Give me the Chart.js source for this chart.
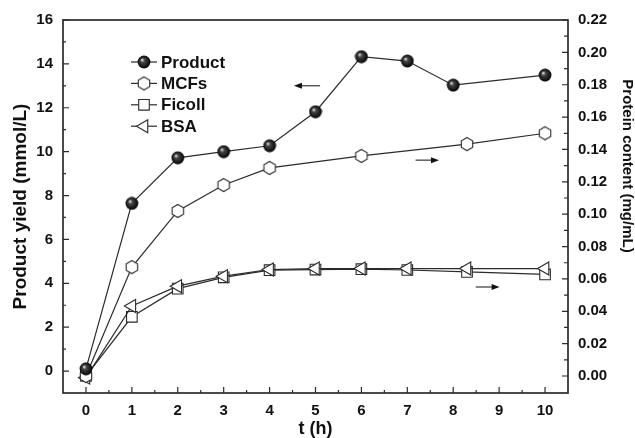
<!DOCTYPE html>
<html>
<head>
<meta charset="UTF-8">
<title>Product yield and protein content</title>
<script src="https://cdn.jsdelivr.net/npm/chart.js"></script>
<style>
  body { margin: 0; background: #fff; }
  #wrap { width: 635px; height: 438px; }
</style>
</head>
<body>
<div id="wrap"><canvas id="myChart"></canvas></div>
<script>
// values
const hours = [0, 1, 2, 3, 4, 5, 6, 7, 8, 10];
const product = [0.1, 7.64, 9.72, 10.0, 10.27, 11.82, 14.33, 14.13, 13.03, 13.49];

const mcfsHours = [0, 1, 2, 3, 4, 6, 8.3, 10];
const mcfs = [0.0, 0.0673, 0.102, 0.118, 0.1286, 0.136, 0.1433, 0.150];

const proteinHours = [0, 1, 2, 3, 4, 5, 6, 7, 8.3, 10];
const ficoll = [0.0, 0.0366, 0.054, 0.061, 0.0654, 0.0658, 0.066, 0.0655, 0.0643, 0.0628];
const bsa = [-0.001, 0.0433, 0.0555, 0.0617, 0.0658, 0.0664, 0.0664, 0.0664, 0.0664, 0.0664];

const xTicks = [0, 1, 2, 3, 4, 5, 6, 7, 8, 9, 10];
const leftTicks = [0, 2, 4, 6, 8, 10, 12, 14, 16];
const rightTicks = [0, 0.02, 0.04, 0.06, 0.08, 0.10, 0.12, 0.14, 0.16, 0.18, 0.20, 0.22];

// little arrows telling which axis a curve belongs to
const arrows = [
    { axis: 'y', y: 13.0, from: 5.1, to: 4.53 },
    { axis: 'y1', y: 0.1334, from: 7.18, to: 7.69 },
    { axis: 'y1', y: 0.055, from: 8.49, to: 9.01 }
];

const FONT = "'Liberation Sans', Arial, sans-serif";
const INK = '#2b2b2b';
Chart.defaults.font.family = FONT;
Chart.defaults.color = '#111';

function pairs(xs, ys) {
    return xs.map((x, i) => ({ x: x, y: ys[i] }));
}

// shaded ball marker
var ball = document.createElement('canvas');
ball.width = 14; ball.height = 14;
(function () {
    var c = ball.getContext('2d');
    var g = c.createRadialGradient(5, 4.8, 0.3, 7, 7, 6.6);
    g.addColorStop(0, '#e0e0e0');
    g.addColorStop(0.3, '#444');
    g.addColorStop(1, '#000');
    c.fillStyle = g;
    c.beginPath();
    c.arc(7, 7, 6.4, 0, Math.PI * 2);
    c.fill();
})();

// open hexagon marker
var hex = document.createElement('canvas');
hex.width = 16; hex.height = 16;
(function () {
    var c = hex.getContext('2d');
    c.beginPath();
    for (var k = 0; k < 6; k++) {
        var a = (-90 + 60 * k) * Math.PI / 180;
        var px = 8 + 6.6 * Math.cos(a), py = 8 + 6.6 * Math.sin(a);
        if (k == 0) c.moveTo(px, py); else c.lineTo(px, py);
    }
    c.closePath();
    c.fillStyle = '#fff';
    c.fill();
    c.strokeStyle = INK;
    c.lineWidth = 1.1;
    c.stroke();
})();

const frameTicks = {
    id: 'frameTicks',
    beforeDatasetsDraw(chart) {
        const { ctx, chartArea: a, scales } = chart;
        ctx.save();
        ctx.strokeStyle = INK;
        ctx.lineWidth = 1.7;
        ctx.strokeRect(a.left, a.top, a.right - a.left, a.bottom - a.top);
        ctx.lineWidth = 1.2;
        ctx.beginPath();
        const xs = scales.x;
        xTicks.forEach((v, i) => {
            const p = xs.getPixelForValue(v);
            ctx.moveTo(p, a.bottom); ctx.lineTo(p, a.bottom - 6);
            if (i < xTicks.length - 1) {
                const m = xs.getPixelForValue((v + xTicks[i + 1]) / 2);
                ctx.moveTo(m, a.bottom); ctx.lineTo(m, a.bottom - 3);
            }
        });
        const yl = scales.y;
        leftTicks.forEach((v, i) => {
            const p = yl.getPixelForValue(v);
            ctx.moveTo(a.left, p); ctx.lineTo(a.left + 6, p);
            if (i < leftTicks.length - 1) {
                const m = yl.getPixelForValue((v + leftTicks[i + 1]) / 2);
                ctx.moveTo(a.left, m); ctx.lineTo(a.left + 3, m);
            }
        });
        const yr = scales.y1;
        rightTicks.forEach((v, i) => {
            const p = yr.getPixelForValue(v);
            ctx.moveTo(a.right, p); ctx.lineTo(a.right - 6, p);
            if (i < rightTicks.length - 1) {
                const m = yr.getPixelForValue((v + rightTicks[i + 1]) / 2);
                ctx.moveTo(a.right, m); ctx.lineTo(a.right - 4, m);
            }
        });
        ctx.stroke();
        ctx.restore();
    }
};

const extras = {
    id: 'extras',
    afterDraw(chart) {
        const { ctx, scales } = chart;
        ctx.save();
        // arrows
        ctx.strokeStyle = '#111';
        ctx.fillStyle = '#111';
        ctx.lineWidth = 1;
        arrows.forEach(ar => {
            const y = scales[ar.axis].getPixelForValue(ar.y);
            const x0 = scales.x.getPixelForValue(ar.from);
            const x1 = scales.x.getPixelForValue(ar.to);
            const dir = x1 > x0 ? 1 : -1;
            ctx.beginPath();
            ctx.moveTo(x0, y); ctx.lineTo(x1 - dir * 6, y);
            ctx.stroke();
            ctx.beginPath();
            ctx.moveTo(x1, y);
            ctx.lineTo(x1 - dir * 8, y - 3);
            ctx.lineTo(x1 - dir * 8, y + 3);
            ctx.closePath();
            ctx.fill();
        });

        // legend in the upper left corner
        chart.data.datasets.forEach((ds, i) => {
            const y = 62 + i * 21.4;
            ctx.strokeStyle = INK;
            ctx.lineWidth = 1.2;
            ctx.beginPath();
            ctx.moveTo(131, y); ctx.lineTo(157, y);
            ctx.stroke();
            ctx.fillStyle = '#fff';
            ctx.strokeStyle = INK;
            ctx.lineWidth = ds.pointBorderWidth || 1;
            Chart.helpers.drawPoint(ctx, {
                pointStyle: ds.pointStyle,
                rotation: ds.pointRotation || 0,
                radius: ds.pointRadius,
                borderWidth: ds.pointBorderWidth || 1
            }, 144, y);
            ctx.fillStyle = '#111';
            ctx.font = 'bold 17px ' + FONT;
            ctx.textBaseline = 'middle';
            ctx.textAlign = 'left';
            ctx.fillText(ds.label, 161, y + 1);
        });

        // right axis title
        ctx.translate(627, 166);
        ctx.rotate(Math.PI / 2);
        ctx.font = 'bold 15px ' + FONT;
        ctx.textAlign = 'center';
        ctx.textBaseline = 'middle';
        ctx.fillStyle = '#111';
        ctx.fillText('Protein content (mg/mL)', 0, 0);
        ctx.restore();
    }
};

const lineStyle = { borderColor: INK, borderWidth: 1.2, tension: 0, showLine: true };

new Chart(document.getElementById('myChart'), {
    type: 'scatter',
    data: {
        datasets: [
            Object.assign({
                label: 'Product', data: pairs(hours, product), yAxisID: 'y',
                pointStyle: ball, pointRadius: 7, order: 0
            }, lineStyle),
            Object.assign({
                label: 'MCFs', data: pairs(mcfsHours, mcfs), yAxisID: 'y1',
                pointStyle: hex, pointRadius: 7, order: 0
            }, lineStyle),
            Object.assign({
                label: 'Ficoll', data: pairs(proteinHours, ficoll), yAxisID: 'y1',
                pointStyle: 'rect', pointRadius: 7.5, pointBackgroundColor: '#fff',
                pointBorderColor: INK, pointBorderWidth: 1.1, order: 2
            }, lineStyle),
            Object.assign({
                label: 'BSA', data: pairs(proteinHours, bsa), yAxisID: 'y1',
                pointStyle: 'triangle', pointRotation: -90, pointRadius: 7.5,
                pointBackgroundColor: '#fff', pointBorderColor: INK, pointBorderWidth: 1.1, order: 1
            }, lineStyle)
        ]
    },
    options: {
        responsive: true,
        maintainAspectRatio: false,
        animation: false,
        events: [],
        layout: { padding: { top: 20, left: 0, right: 0, bottom: 0 } },
        plugins: { legend: { display: false }, tooltip: { enabled: false } },
        scales: {
            x: {
                type: 'linear', min: -0.5, max: 10.5,
                grid: { display: false }, border: { display: false },
                afterBuildTicks(s) { s.ticks = xTicks.map(v => ({ value: v })); },
                afterFit(s) { s.height = 45; },
                ticks: { padding: 1, font: { size: 15, weight: 'bold' }, maxRotation: 0 },
                title: {
                    display: true, text: 't (h)',
                    font: { size: 18, weight: 'bold', lineHeight: 1 },
                    padding: { top: 0, bottom: 0 }
                }
            },
            y: {
                position: 'left', min: -1, max: 16,
                grid: { display: false }, border: { display: false },
                afterBuildTicks(s) { s.ticks = leftTicks.map(v => ({ value: v })); },
                afterFit(s) { s.width = 63; },
                ticks: { padding: 2, font: { size: 15, weight: 'bold' } },
                title: {
                    display: true, text: 'Product yield (mmol/L)',
                    font: { size: 19, weight: 'bold', lineHeight: 1 },
                    padding: { top: 11, bottom: 0 }
                }
            },
            y1: {
                position: 'right', min: -0.0105, max: 0.22,
                grid: { display: false }, border: { display: false },
                afterBuildTicks(s) { s.ticks = rightTicks.map(v => ({ value: v })); },
                afterFit(s) { s.width = 67; },
                ticks: {
                    padding: 2, font: { size: 15, weight: 'bold' },
                    callback: v => v.toFixed(2)
                }
            }
        }
    },
    plugins: [frameTicks, extras]
});
</script>
</body>
</html>
